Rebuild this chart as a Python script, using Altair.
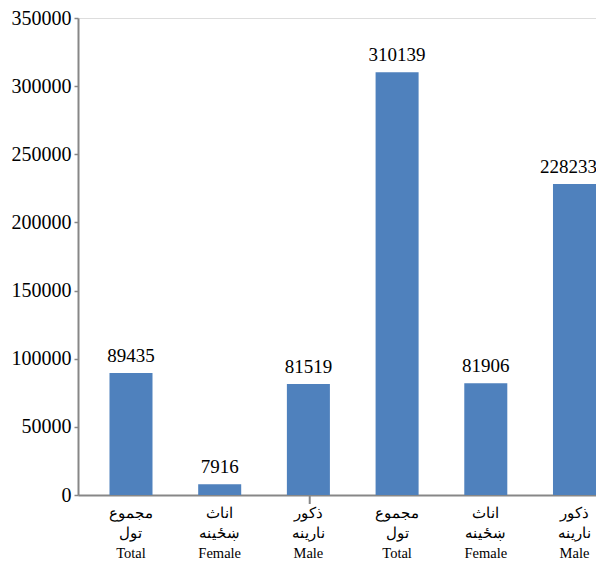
import json
import altair as alt
import pandas as pd

# Data
arabic = ["مجموع", "اناث", "ذکور", "مجموع", "اناث", "ذکور"]
pashto = ["تول", "ښځينه", "نارينه", "تول", "ښځينه", "نارينه"]
english = ["Total", "Female", "Male", "Total", "Female", "Male"]
values = [89435, 7916, 81519, 310139, 81906, 228233]
y_ticks = [0, 50000, 100000, 150000, 200000, 250000, 300000, 350000]

ids = list(range(len(values)))
df = pd.DataFrame({"id": ids, "value": values})
last_id = ids[-1]

label_lines = [[a, p, e] for a, p, e in zip(arabic, pashto, english)]
label_expr = json.dumps(label_lines, ensure_ascii=False) + "[datum.value]"

FONT = "Liberation Serif"
AXIS_GRAY = "#878787"
BAR = "#4F81BD"

W, H = 518, 477
p_inner = 0.515
p_outer = 0.1775
STEP = W / (len(values) - p_inner + 2 * p_outer)

x_scale = alt.Scale(paddingInner=p_inner, paddingOuter=p_outer, align=1.0)
y_scale = alt.Scale(domain=[0, 350000], nice=False)

x_enc = alt.X(
    "id:O",
    scale=x_scale,
    axis=alt.Axis(
        title=None,
        labelExpr=label_expr,
        labelAngle=0,
        labelFont=FONT,
        labelFontSize=14.5,
        labelColor="black",
        labelLineHeight=20,
        labelPadding=11,
        ticks=False,
        domainColor=AXIS_GRAY,
        domainWidth=2,
    ),
)

bars = alt.Chart(df).mark_bar(color=BAR).encode(
    x=x_enc,
    y=alt.Y(
        "value:Q",
        scale=y_scale,
        axis=alt.Axis(
            title=None,
            values=y_ticks,
            format="d",
            grid=False,
            labelFont=FONT,
            labelFontSize=20,
            labelColor="black",
            labelPadding=3,
            tickSize=4,
            tickColor=AXIS_GRAY,
            tickWidth=1.5,
            domainColor=AXIS_GRAY,
            domainWidth=2,
            labelFlush=False,
        ),
    ),
)

text_style = dict(font=FONT, fontSize=19, color="black", baseline="alphabetic", dy=-11)

texts = alt.Chart(df).transform_filter(f"datum.id != {last_id}").mark_text(
    **text_style
).encode(
    x=alt.X("id:O", scale=x_scale),
    y=alt.Y("value:Q", scale=y_scale),
    text=alt.Text("value:Q", format="d"),
)

# the last label sits at the right edge of the chart
text_last = alt.Chart(df).transform_filter(f"datum.id == {last_id}").mark_text(
    align="right", dx=1, **text_style
).encode(
    x=alt.X("id:O", scale=x_scale, bandPosition=1),
    y=alt.Y("value:Q", scale=y_scale),
    text=alt.Text("value:Q", format="d"),
)

# group separator tick between the two groups of three bars
sep_df = pd.DataFrame({"id": [ids[2]]})
sep = alt.Chart(sep_df).mark_rule(color=AXIS_GRAY, strokeWidth=2).encode(
    x=alt.X("id:O", scale=x_scale, bandPosition=1),
    xOffset=alt.value(p_inner * STEP / 2),
    y=alt.value(H),
    y2=alt.value(H + 9),
)

chart = (
    alt.layer(bars, texts, text_last, sep)
    .properties(
        width=W,
        height=H,
        autosize=alt.AutoSizeParams(type="none"),
        padding={"left": 70, "top": 10, "right": 0, "bottom": 66},
    )
    .configure_view(stroke=None)
    .configure(background="white")
)

chart.save("out.html", embed_options={"renderer": "svg", "actions": False})
